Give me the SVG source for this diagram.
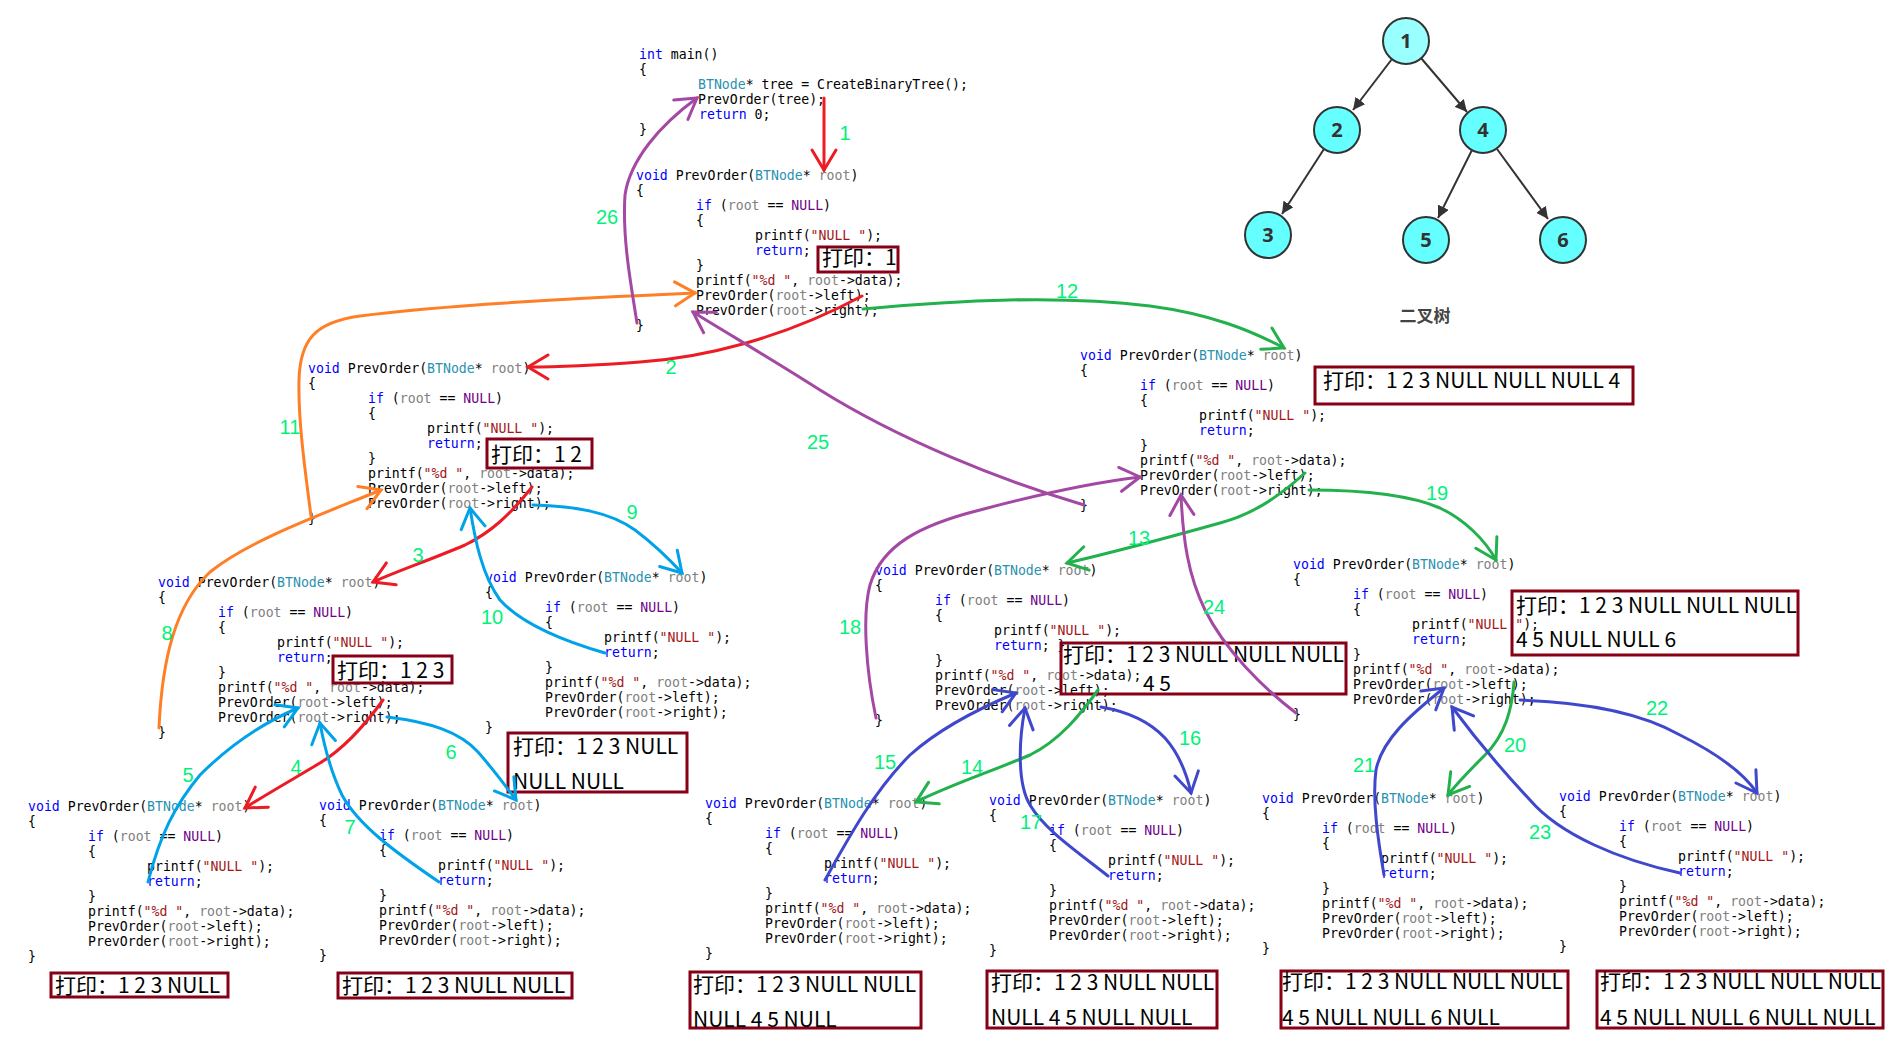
<svg xmlns="http://www.w3.org/2000/svg" width="1888" height="1048" viewBox="0 0 1888 1048">
<style>
.code text{font-family:"DejaVu Sans Mono","Liberation Mono",monospace;font-size:13.2px;fill:#000}
.k{fill:#0000ff}.t{fill:#2b91af}.r{fill:#808080}.n{fill:#6f008a}.s{fill:#a31515}
.lb{font-family:"Liberation Sans",Arial,sans-serif;font-size:20px;fill:#00f27a;text-anchor:middle}
.pb{fill:none;stroke:#880015;stroke-width:3}
.pt{font-family:"Noto Sans CJK SC","Noto Sans",sans-serif;font-size:21px;fill:#000}
.w{fill:none;stroke-width:3;stroke-linecap:round;stroke-linejoin:round}
.red{stroke:#ed1c24;marker-end:url(#mR)}
.ora{stroke:#ff7f27;marker-end:url(#mO)}
.grn{stroke:#22b14c;marker-end:url(#mG)}
.blu{stroke:#00a2e8;marker-end:url(#mB)}
.ind{stroke:#3f48cc;marker-end:url(#mI)}
.pur{stroke:#a349a4;marker-end:url(#mP)}
.te{stroke:#333;stroke-width:2;fill:none;marker-end:url(#mT)}
.tn circle{stroke:#333;stroke-width:2}
.tn text{font-family:"Noto Sans",sans-serif;font-weight:bold;font-size:20px;fill:#333;text-anchor:middle}
</style>
<defs>
<marker id="mR" markerUnits="userSpaceOnUse" markerWidth="30" markerHeight="30" refX="22" refY="13" orient="auto" overflow="visible"><path d="M2,1 L22,13 L2,25" fill="none" stroke="#ed1c24" stroke-width="3" stroke-linecap="round"/></marker>
<marker id="mO" markerUnits="userSpaceOnUse" markerWidth="30" markerHeight="30" refX="22" refY="13" orient="auto" overflow="visible"><path d="M2,1 L22,13 L2,25" fill="none" stroke="#ff7f27" stroke-width="3" stroke-linecap="round"/></marker>
<marker id="mG" markerUnits="userSpaceOnUse" markerWidth="30" markerHeight="30" refX="22" refY="13" orient="auto" overflow="visible"><path d="M2,1 L22,13 L2,25" fill="none" stroke="#22b14c" stroke-width="3" stroke-linecap="round"/></marker>
<marker id="mB" markerUnits="userSpaceOnUse" markerWidth="30" markerHeight="30" refX="22" refY="13" orient="auto" overflow="visible"><path d="M2,1 L22,13 L2,25" fill="none" stroke="#00a2e8" stroke-width="3" stroke-linecap="round"/></marker>
<marker id="mI" markerUnits="userSpaceOnUse" markerWidth="30" markerHeight="30" refX="22" refY="13" orient="auto" overflow="visible"><path d="M2,1 L22,13 L2,25" fill="none" stroke="#3f48cc" stroke-width="3" stroke-linecap="round"/></marker>
<marker id="mP" markerUnits="userSpaceOnUse" markerWidth="30" markerHeight="30" refX="22" refY="13" orient="auto" overflow="visible"><path d="M2,1 L22,13 L2,25" fill="none" stroke="#a349a4" stroke-width="3" stroke-linecap="round"/></marker>
<marker id="mT" markerUnits="userSpaceOnUse" markerWidth="14" markerHeight="12" refX="12" refY="6" orient="auto"><path d="M0,0 L12,6 L0,12 z" fill="#333"/></marker>
</defs>
<rect width="1888" height="1048" fill="#fff"/>

<g class="code">
<g id="main" transform="translate(639,58.5)">
<text x="0" y="0"><tspan class="k">int</tspan> main()</text>
<text x="0" y="15">{</text>
<text x="59" y="30"><tspan class="t">BTNode</tspan>* tree = CreateBinaryTree();</text>
<text x="59" y="45">PrevOrder(tree);</text>
<text x="60" y="60"><tspan class="k">return</tspan> 0;</text>
<text x="0" y="75">}</text>
</g>
<g id="blk-n1" transform="translate(636,180)">
<text x="0" y="0"><tspan class="k">void</tspan> PrevOrder(<tspan class="t">BTNode</tspan>* <tspan class="r">root</tspan>)</text>
<text x="0" y="15">{</text>
<text x="60" y="30"><tspan class="k">if</tspan> (<tspan class="r">root</tspan> == <tspan class="n">NULL</tspan>)</text>
<text x="60" y="45">{</text>
<text x="119" y="60">printf(<tspan class="s">"NULL "</tspan>);</text>
<text x="119" y="75"><tspan class="k">return</tspan>;</text>
<text x="60" y="90">}</text>
<text x="60" y="105">printf(<tspan class="s">"%d "</tspan>, <tspan class="r">root</tspan>-&gt;data);</text>
<text x="60" y="120">PrevOrder(<tspan class="r">root</tspan>-&gt;left);</text>
<text x="60" y="135">PrevOrder(<tspan class="r">root</tspan>-&gt;right);</text>
<text x="0" y="150">}</text>
</g>
<g id="blk-n2" transform="translate(308,373)">
<text x="0" y="0"><tspan class="k">void</tspan> PrevOrder(<tspan class="t">BTNode</tspan>* <tspan class="r">root</tspan>)</text>
<text x="0" y="15">{</text>
<text x="60" y="30"><tspan class="k">if</tspan> (<tspan class="r">root</tspan> == <tspan class="n">NULL</tspan>)</text>
<text x="60" y="45">{</text>
<text x="119" y="60">printf(<tspan class="s">"NULL "</tspan>);</text>
<text x="119" y="75"><tspan class="k">return</tspan>;</text>
<text x="60" y="90">}</text>
<text x="60" y="105">printf(<tspan class="s">"%d "</tspan>, <tspan class="r">root</tspan>-&gt;data);</text>
<text x="60" y="120">PrevOrder(<tspan class="r">root</tspan>-&gt;left);</text>
<text x="60" y="135">PrevOrder(<tspan class="r">root</tspan>-&gt;right);</text>
<text x="0" y="150">}</text>
</g>
<g id="blk-n3" transform="translate(158,587)">
<text x="0" y="0"><tspan class="k">void</tspan> PrevOrder(<tspan class="t">BTNode</tspan>* <tspan class="r">root</tspan>)</text>
<text x="0" y="15">{</text>
<text x="60" y="30"><tspan class="k">if</tspan> (<tspan class="r">root</tspan> == <tspan class="n">NULL</tspan>)</text>
<text x="60" y="45">{</text>
<text x="119" y="60">printf(<tspan class="s">"NULL "</tspan>);</text>
<text x="119" y="75"><tspan class="k">return</tspan>;</text>
<text x="60" y="90">}</text>
<text x="60" y="105">printf(<tspan class="s">"%d "</tspan>, <tspan class="r">root</tspan>-&gt;data);</text>
<text x="60" y="120">PrevOrder(<tspan class="r">root</tspan>-&gt;left);</text>
<text x="60" y="135">PrevOrder(<tspan class="r">root</tspan>-&gt;right);</text>
<text x="0" y="150">}</text>
</g>
<g id="blk-n2R" transform="translate(485,582)">
<text x="0" y="0"><tspan class="k">void</tspan> PrevOrder(<tspan class="t">BTNode</tspan>* <tspan class="r">root</tspan>)</text>
<text x="0" y="15">{</text>
<text x="60" y="30"><tspan class="k">if</tspan> (<tspan class="r">root</tspan> == <tspan class="n">NULL</tspan>)</text>
<text x="60" y="45">{</text>
<text x="119" y="60">printf(<tspan class="s">"NULL "</tspan>);</text>
<text x="119" y="75"><tspan class="k">return</tspan>;</text>
<text x="60" y="90">}</text>
<text x="60" y="105">printf(<tspan class="s">"%d "</tspan>, <tspan class="r">root</tspan>-&gt;data);</text>
<text x="60" y="120">PrevOrder(<tspan class="r">root</tspan>-&gt;left);</text>
<text x="60" y="135">PrevOrder(<tspan class="r">root</tspan>-&gt;right);</text>
<text x="0" y="150">}</text>
</g>
<g id="blk-n3L" transform="translate(28,811)">
<text x="0" y="0"><tspan class="k">void</tspan> PrevOrder(<tspan class="t">BTNode</tspan>* <tspan class="r">root</tspan>)</text>
<text x="0" y="15">{</text>
<text x="60" y="30"><tspan class="k">if</tspan> (<tspan class="r">root</tspan> == <tspan class="n">NULL</tspan>)</text>
<text x="60" y="45">{</text>
<text x="119" y="60">printf(<tspan class="s">"NULL "</tspan>);</text>
<text x="119" y="75"><tspan class="k">return</tspan>;</text>
<text x="60" y="90">}</text>
<text x="60" y="105">printf(<tspan class="s">"%d "</tspan>, <tspan class="r">root</tspan>-&gt;data);</text>
<text x="60" y="120">PrevOrder(<tspan class="r">root</tspan>-&gt;left);</text>
<text x="60" y="135">PrevOrder(<tspan class="r">root</tspan>-&gt;right);</text>
<text x="0" y="150">}</text>
</g>
<g id="blk-n3R" transform="translate(319,810)">
<text x="0" y="0"><tspan class="k">void</tspan> PrevOrder(<tspan class="t">BTNode</tspan>* <tspan class="r">root</tspan>)</text>
<text x="0" y="15">{</text>
<text x="60" y="30"><tspan class="k">if</tspan> (<tspan class="r">root</tspan> == <tspan class="n">NULL</tspan>)</text>
<text x="60" y="45">{</text>
<text x="119" y="60">printf(<tspan class="s">"NULL "</tspan>);</text>
<text x="119" y="75"><tspan class="k">return</tspan>;</text>
<text x="60" y="90">}</text>
<text x="60" y="105">printf(<tspan class="s">"%d "</tspan>, <tspan class="r">root</tspan>-&gt;data);</text>
<text x="60" y="120">PrevOrder(<tspan class="r">root</tspan>-&gt;left);</text>
<text x="60" y="135">PrevOrder(<tspan class="r">root</tspan>-&gt;right);</text>
<text x="0" y="150">}</text>
</g>
<g id="blk-n4" transform="translate(1080,360)">
<text x="0" y="0"><tspan class="k">void</tspan> PrevOrder(<tspan class="t">BTNode</tspan>* <tspan class="r">root</tspan>)</text>
<text x="0" y="15">{</text>
<text x="60" y="30"><tspan class="k">if</tspan> (<tspan class="r">root</tspan> == <tspan class="n">NULL</tspan>)</text>
<text x="60" y="45">{</text>
<text x="119" y="60">printf(<tspan class="s">"NULL "</tspan>);</text>
<text x="119" y="75"><tspan class="k">return</tspan>;</text>
<text x="60" y="90">}</text>
<text x="60" y="105">printf(<tspan class="s">"%d "</tspan>, <tspan class="r">root</tspan>-&gt;data);</text>
<text x="60" y="120">PrevOrder(<tspan class="r">root</tspan>-&gt;left);</text>
<text x="60" y="135">PrevOrder(<tspan class="r">root</tspan>-&gt;right);</text>
<text x="0" y="150">}</text>
</g>
<g id="blk-n5" transform="translate(875,575)">
<text x="0" y="0"><tspan class="k">void</tspan> PrevOrder(<tspan class="t">BTNode</tspan>* <tspan class="r">root</tspan>)</text>
<text x="0" y="15">{</text>
<text x="60" y="30"><tspan class="k">if</tspan> (<tspan class="r">root</tspan> == <tspan class="n">NULL</tspan>)</text>
<text x="60" y="45">{</text>
<text x="119" y="60">printf(<tspan class="s">"NULL "</tspan>);</text>
<text x="119" y="75"><tspan class="k">return</tspan>; }</text>
<text x="60" y="90">}</text>
<text x="60" y="105">printf(<tspan class="s">"%d "</tspan>, <tspan class="r">root</tspan>-&gt;data);</text>
<text x="60" y="120">PrevOrder(<tspan class="r">root</tspan>-&gt;left);</text>
<text x="60" y="135">PrevOrder(<tspan class="r">root</tspan>-&gt;right);</text>
<text x="0" y="150">}</text>
</g>
<g id="blk-n5L" transform="translate(705,808)">
<text x="0" y="0"><tspan class="k">void</tspan> PrevOrder(<tspan class="t">BTNode</tspan>* <tspan class="r">root</tspan>)</text>
<text x="0" y="15">{</text>
<text x="60" y="30"><tspan class="k">if</tspan> (<tspan class="r">root</tspan> == <tspan class="n">NULL</tspan>)</text>
<text x="60" y="45">{</text>
<text x="119" y="60">printf(<tspan class="s">"NULL "</tspan>);</text>
<text x="119" y="75"><tspan class="k">return</tspan>;</text>
<text x="60" y="90">}</text>
<text x="60" y="105">printf(<tspan class="s">"%d "</tspan>, <tspan class="r">root</tspan>-&gt;data);</text>
<text x="60" y="120">PrevOrder(<tspan class="r">root</tspan>-&gt;left);</text>
<text x="60" y="135">PrevOrder(<tspan class="r">root</tspan>-&gt;right);</text>
<text x="0" y="150">}</text>
</g>
<g id="blk-n5R" transform="translate(989,805)">
<text x="0" y="0"><tspan class="k">void</tspan> PrevOrder(<tspan class="t">BTNode</tspan>* <tspan class="r">root</tspan>)</text>
<text x="0" y="15">{</text>
<text x="60" y="30"><tspan class="k">if</tspan> (<tspan class="r">root</tspan> == <tspan class="n">NULL</tspan>)</text>
<text x="60" y="45">{</text>
<text x="119" y="60">printf(<tspan class="s">"NULL "</tspan>);</text>
<text x="119" y="75"><tspan class="k">return</tspan>;</text>
<text x="60" y="90">}</text>
<text x="60" y="105">printf(<tspan class="s">"%d "</tspan>, <tspan class="r">root</tspan>-&gt;data);</text>
<text x="60" y="120">PrevOrder(<tspan class="r">root</tspan>-&gt;left);</text>
<text x="60" y="135">PrevOrder(<tspan class="r">root</tspan>-&gt;right);</text>
<text x="0" y="150">}</text>
</g>
<g id="blk-n6" transform="translate(1293,569)">
<text x="0" y="0"><tspan class="k">void</tspan> PrevOrder(<tspan class="t">BTNode</tspan>* <tspan class="r">root</tspan>)</text>
<text x="0" y="15">{</text>
<text x="60" y="30"><tspan class="k">if</tspan> (<tspan class="r">root</tspan> == <tspan class="n">NULL</tspan>)</text>
<text x="60" y="45">{</text>
<text x="119" y="60">printf(<tspan class="s">"NULL "</tspan>);</text>
<text x="119" y="75"><tspan class="k">return</tspan>;</text>
<text x="60" y="90">}</text>
<text x="60" y="105">printf(<tspan class="s">"%d "</tspan>, <tspan class="r">root</tspan>-&gt;data);</text>
<text x="60" y="120">PrevOrder(<tspan class="r">root</tspan>-&gt;left);</text>
<text x="60" y="135">PrevOrder(<tspan class="r">root</tspan>-&gt;right);</text>
<text x="0" y="150">}</text>
</g>
<g id="blk-n6L" transform="translate(1262,803)">
<text x="0" y="0"><tspan class="k">void</tspan> PrevOrder(<tspan class="t">BTNode</tspan>* <tspan class="r">root</tspan>)</text>
<text x="0" y="15">{</text>
<text x="60" y="30"><tspan class="k">if</tspan> (<tspan class="r">root</tspan> == <tspan class="n">NULL</tspan>)</text>
<text x="60" y="45">{</text>
<text x="119" y="60">printf(<tspan class="s">"NULL "</tspan>);</text>
<text x="119" y="75"><tspan class="k">return</tspan>;</text>
<text x="60" y="90">}</text>
<text x="60" y="105">printf(<tspan class="s">"%d "</tspan>, <tspan class="r">root</tspan>-&gt;data);</text>
<text x="60" y="120">PrevOrder(<tspan class="r">root</tspan>-&gt;left);</text>
<text x="60" y="135">PrevOrder(<tspan class="r">root</tspan>-&gt;right);</text>
<text x="0" y="150">}</text>
</g>
<g id="blk-n6R" transform="translate(1559,801)">
<text x="0" y="0"><tspan class="k">void</tspan> PrevOrder(<tspan class="t">BTNode</tspan>* <tspan class="r">root</tspan>)</text>
<text x="0" y="15">{</text>
<text x="60" y="30"><tspan class="k">if</tspan> (<tspan class="r">root</tspan> == <tspan class="n">NULL</tspan>)</text>
<text x="60" y="45">{</text>
<text x="119" y="60">printf(<tspan class="s">"NULL "</tspan>);</text>
<text x="119" y="75"><tspan class="k">return</tspan>;</text>
<text x="60" y="90">}</text>
<text x="60" y="105">printf(<tspan class="s">"%d "</tspan>, <tspan class="r">root</tspan>-&gt;data);</text>
<text x="60" y="120">PrevOrder(<tspan class="r">root</tspan>-&gt;left);</text>
<text x="60" y="135">PrevOrder(<tspan class="r">root</tspan>-&gt;right);</text>
<text x="0" y="150">}</text>
</g>
</g>

<g id="prints">
<g id="pA"><rect class="pb" x="818" y="247" width="80" height="25"/><text class="pt" x="822" y="265">打印：1</text></g>
<g id="pB"><rect class="pb" x="487" y="439" width="105" height="29"/><text class="pt" x="491" y="462">打印：1 2</text></g>
<g id="pC"><rect class="pb" x="333" y="656" width="119" height="27"/><text class="pt" x="337" y="678">打印：1 2 3</text></g>
<g id="pD"><rect class="pb" x="508" y="733" width="179" height="59"/><text class="pt" x="513" y="754">打印：1 2 3 NULL</text><text class="pt" x="513" y="789">NULL NULL</text></g>
<g id="pE"><rect class="pb" x="51" y="973" width="177" height="24"/><text class="pt" x="55" y="993">打印：1 2 3 NULL</text></g>
<g id="pF"><rect class="pb" x="338" y="973" width="234" height="25"/><text class="pt" x="342" y="993">打印：1 2 3 NULL NULL</text></g>
<g id="pG"><rect class="pb" x="690" y="972" width="231" height="56"/><text class="pt" x="693" y="992">打印：1 2 3 NULL NULL</text><text class="pt" x="693" y="1027">NULL 4 5 NULL</text></g>
<g id="pH"><rect class="pb" x="987" y="971" width="230" height="57"/><text class="pt" x="991" y="990">打印：1 2 3 NULL NULL</text><text class="pt" x="991" y="1025">NULL 4 5 NULL NULL</text></g>
<g id="pI"><rect class="pb" x="1281" y="971" width="287" height="57"/><text class="pt" x="1282" y="989">打印：1 2 3 NULL NULL NULL</text><text class="pt" x="1282" y="1025">4 5 NULL NULL 6 NULL</text></g>
<g id="pJ"><rect class="pb" x="1597" y="971" width="286" height="57"/><text class="pt" x="1600" y="989">打印：1 2 3 NULL NULL NULL</text><text class="pt" x="1600" y="1025">4 5 NULL NULL 6 NULL NULL</text></g>
<g id="pK"><rect class="pb" x="1061" y="643" width="285" height="51"/><text class="pt" x="1063" y="662">打印：1 2 3 NULL NULL NULL</text><text class="pt" x="1143" y="691">4 5</text></g>
<g id="pL"><rect class="pb" x="1315" y="367" width="318" height="37"/><text class="pt" x="1323" y="388">打印：1 2 3 NULL NULL NULL 4</text></g>
<g id="pM"><rect class="pb" x="1512" y="591" width="286" height="64"/><text class="pt" x="1516" y="613">打印：1 2 3 NULL NULL NULL</text><text class="pt" x="1516" y="647">4 5 NULL NULL 6</text></g>
</g>

<g id="tree">
<g id="t1" class="tn"><circle cx="1406" cy="41" r="23" fill="#99ffff"/><text x="1406" y="48">1</text></g>
<g id="t2" class="tn"><circle cx="1337" cy="130" r="23" fill="#66ffff"/><text x="1337" y="137">2</text></g>
<g id="t4" class="tn"><circle cx="1483" cy="130" r="23" fill="#66ffff"/><text x="1483" y="137">4</text></g>
<g id="t3" class="tn"><circle cx="1268" cy="235" r="23" fill="#66ffff"/><text x="1268" y="242">3</text></g>
<g id="t5" class="tn"><circle cx="1426" cy="240" r="23" fill="#66ffff"/><text x="1426" y="247">5</text></g>
<g id="t6" class="tn"><circle cx="1563" cy="240" r="23" fill="#66ffff"/><text x="1563" y="247">6</text></g>
<text x="1425" y="322" font-family="Noto Sans CJK SC, sans-serif" font-weight="bold" font-size="17" fill="#444" text-anchor="middle">二叉树</text>
</g>

<g id="connectors">
<g id="tree-edges">
<path class="te" d="M1392,59 L1353,110"/>
<path class="te" d="M1421,58 L1467,112"/>
<path class="te" d="M1324,149 L1282,214"/>
<path class="te" d="M1472,150 L1438,218"/>
<path class="te" d="M1497,149 L1548,219"/>
</g>
<path class="w red" d="M824,98 L824,170"/>
<path class="w red" d="M862,296 C780,340 700,358 640,362 C600,365 560,367 528,367"/>
<path class="w red" d="M532,487 C510,515 490,533 465,545 C430,560 400,570 373,582"/>
<path class="w red" d="M383,700 C365,725 345,748 320,763 C295,778 265,795 245,808"/>
<path class="w blu" d="M148,882 C160,835 175,805 200,775 C230,745 265,722 298,708"/>
<path class="w blu" d="M387,717 C430,722 460,732 478,752 C492,768 505,785 516,800"/>
<path class="w blu" d="M439,882 C395,852 358,825 342,795 C330,770 324,745 320,723"/>
<path class="w ora" d="M159,728 C162,660 175,605 210,572 C250,540 320,515 381,490"/>
<path class="w blu" d="M533,505 C575,506 610,512 635,530 C655,545 670,560 682,573"/>
<path class="w blu" d="M605,653 C560,640 520,622 500,600 C482,575 475,540 470,508"/>
<path class="w ora" d="M311,516 C305,470 298,420 299,380 C300,340 315,322 360,316 C440,305 580,298 695,293"/>
<path class="w grn" d="M863,309 C960,300 1060,295 1150,306 C1210,314 1250,330 1284,348"/>
<path class="w grn" d="M1305,473 C1275,500 1250,515 1220,523 C1170,537 1110,553 1067,563"/>
<path class="w grn" d="M1098,690 C1080,715 1060,740 1030,755 C990,772 950,785 916,802"/>
<path class="w ind" d="M825,880 C850,835 875,790 910,755 C940,728 980,708 1016,693"/>
<path class="w ind" d="M1101,707 C1130,712 1150,722 1165,738 C1180,755 1187,775 1191,793"/>
<path class="w ind" d="M1108,876 C1075,850 1045,830 1030,805 C1018,785 1018,745 1025,708"/>
<path class="w pur" d="M876,718 C866,670 862,615 870,585 C882,545 920,525 980,510 C1040,494 1090,483 1140,477"/>
<path class="w grn" d="M1309,490 C1360,490 1410,495 1440,508 C1465,520 1485,540 1496,560"/>
<path class="w grn" d="M1514,682 C1512,710 1505,735 1485,755 C1470,770 1458,782 1448,795"/>
<path class="w ind" d="M1384,875 C1378,840 1372,800 1376,770 C1382,740 1410,715 1444,688"/>
<path class="w ind" d="M1520,700 C1580,702 1640,712 1680,735 C1720,755 1745,775 1757,793"/>
<path class="w ind" d="M1680,873 C1620,860 1560,835 1530,800 C1500,768 1475,738 1452,707"/>
<path class="w pur" d="M1296,713 C1262,687 1225,650 1205,610 C1188,575 1183,540 1181,495"/>
<path class="w pur" d="M1084,505 C1000,480 900,440 820,390 C770,358 730,335 693,312"/>
<path class="w pur" d="M637,323 C632,290 622,240 625,195 C630,160 660,125 697,98"/>
</g>

<g id="labels">
<text class="lb" x="845" y="140">1</text>
<text class="lb" x="671" y="374">2</text>
<text class="lb" x="418" y="562">3</text>
<text class="lb" x="296" y="774">4</text>
<text class="lb" x="188" y="782">5</text>
<text class="lb" x="451" y="759">6</text>
<text class="lb" x="350" y="834">7</text>
<text class="lb" x="167" y="640">8</text>
<text class="lb" x="632" y="519">9</text>
<text class="lb" x="492" y="624">10</text>
<text class="lb" x="290" y="434">11</text>
<text class="lb" x="1067" y="298">12</text>
<text class="lb" x="1139" y="545">13</text>
<text class="lb" x="972" y="774">14</text>
<text class="lb" x="885" y="769">15</text>
<text class="lb" x="1190" y="745">16</text>
<text class="lb" x="1031" y="829">17</text>
<text class="lb" x="850" y="634">18</text>
<text class="lb" x="1437" y="500">19</text>
<text class="lb" x="1515" y="752">20</text>
<text class="lb" x="1364" y="772">21</text>
<text class="lb" x="1657" y="715">22</text>
<text class="lb" x="1540" y="839">23</text>
<text class="lb" x="1214" y="614">24</text>
<text class="lb" x="818" y="449">25</text>
<text class="lb" x="607" y="224">26</text>
</g>
</svg>
